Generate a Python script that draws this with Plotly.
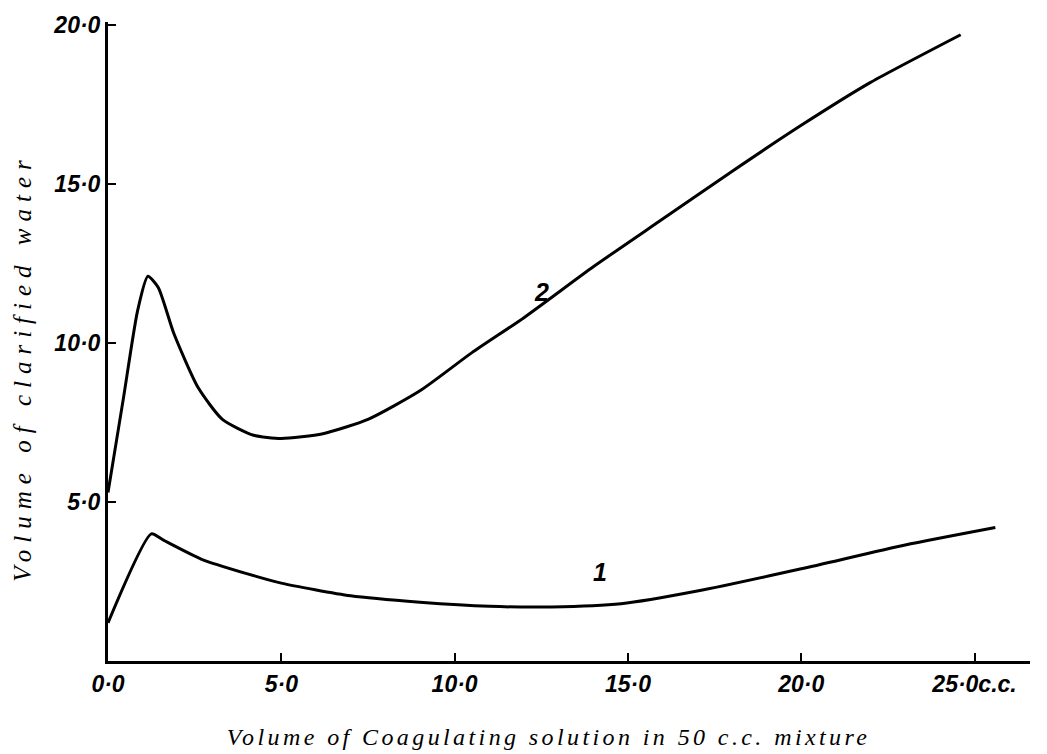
import plotly.graph_objects as go

# Volume of coagulating solution (c.c. in 50 c.c. mixture)
curve1_x = [0.0, 1.25, 1.6, 2.7, 4.0, 5.0, 7.0, 9.0, 11.0, 12.8, 14.8, 17.0, 20.0, 23.0, 25.6]
curve1_y = [1.2, 4.0, 3.8, 3.2, 2.75, 2.45, 2.05, 1.85, 1.72, 1.7, 1.8, 2.2, 2.9, 3.65, 4.2]

curve2_x = [0.0, 0.45, 0.85, 1.15, 1.45, 1.9, 2.6, 3.3, 4.2, 5.0, 6.2, 7.5, 9.0, 10.5, 12.0,
            14.0, 16.0, 18.0, 20.0, 22.0, 24.6]
curve2_y = [5.3, 8.3, 11.0, 12.1, 11.75, 10.3, 8.6, 7.6, 7.1, 7.0, 7.15, 7.6, 8.5, 9.7, 10.8,
            12.4, 13.9, 15.4, 16.85, 18.2, 19.7]

x_ticks = [0, 5, 10, 15, 20, 25]
x_tick_labels = ["0·0", "5·0", "10·0", "15·0", "20·0", "25·0c.c."]
y_ticks = [5, 10, 15, 20]
y_tick_labels = ["5·0", "10·0", "15·0", "20·0"]

curve_labels = [("1", 14.2, 2.8), ("2", 12.5, 11.6)]

tick_font = dict(family="Liberation Sans", size=23, color="black", style="italic", weight="bold")

fig = go.Figure()
for xs, ys in [(curve1_x, curve1_y), (curve2_x, curve2_y)]:
    fig.add_trace(go.Scatter(
        x=xs, y=ys, mode="lines",
        line=dict(color="black", width=3, shape="spline", smoothing=0.6),
        showlegend=False, hoverinfo="skip",
    ))

for text, lx, ly in curve_labels:
    fig.add_annotation(x=lx, y=ly, text=text, showarrow=False,
                       font=dict(family="Liberation Sans", size=25, color="black",
                                 style="italic", weight="bold"))

# axis titles as annotations (letter spacing widened after render)
fig.add_annotation(xref="paper", yref="paper", x=0.478, y=-0.095, yanchor="top",
                   text="Volume of Coagulating solution in 50 c.c. mixture",
                   showarrow=False,
                   font=dict(family="Liberation Serif", size=24, color="black", style="italic"))
fig.add_annotation(xref="paper", yref="paper", x=-0.11, y=0.46, textangle=-90,
                   text="Volume of clarified water",
                   showarrow=False,
                   font=dict(family="Liberation Serif", size=25, color="black", style="italic"))

fig.update_xaxes(
    range=[0, 26.6], showline=True, linecolor="black", linewidth=3,
    ticks="inside", ticklen=8, tickwidth=2, tickcolor="black",
    tickvals=x_ticks, ticktext=x_tick_labels, tickfont=tick_font,
    showgrid=False, zeroline=False,
)
fig.update_yaxes(
    range=[0, 20.1], showline=True, linecolor="black", linewidth=3,
    ticks="inside", ticklen=8, tickwidth=2, tickcolor="black",
    tickvals=y_ticks, ticktext=y_tick_labels, tickfont=tick_font,
    showgrid=False, zeroline=False,
)
fig.update_layout(
    width=1047, height=754,
    margin=dict(l=108, r=17, t=22, b=93),
    paper_bgcolor="white", plot_bgcolor="white",
)

# widen the letter spacing of the two axis titles
spacing_js = """
var gd = document.getElementById('{plot_id}');
function spaceTitles() {
  gd.querySelectorAll('text.annotation-text').forEach(function (t) {
    if (t.textContent.indexOf('clarified') >= 0) { t.style.letterSpacing = '7px'; }
    if (t.textContent.indexOf('Coagulating') >= 0) { t.style.letterSpacing = '3.4px'; }
  });
}
spaceTitles();
gd.on('plotly_afterplot', spaceTitles);
"""
fig.write_html("out.html", post_script=spacing_js)
